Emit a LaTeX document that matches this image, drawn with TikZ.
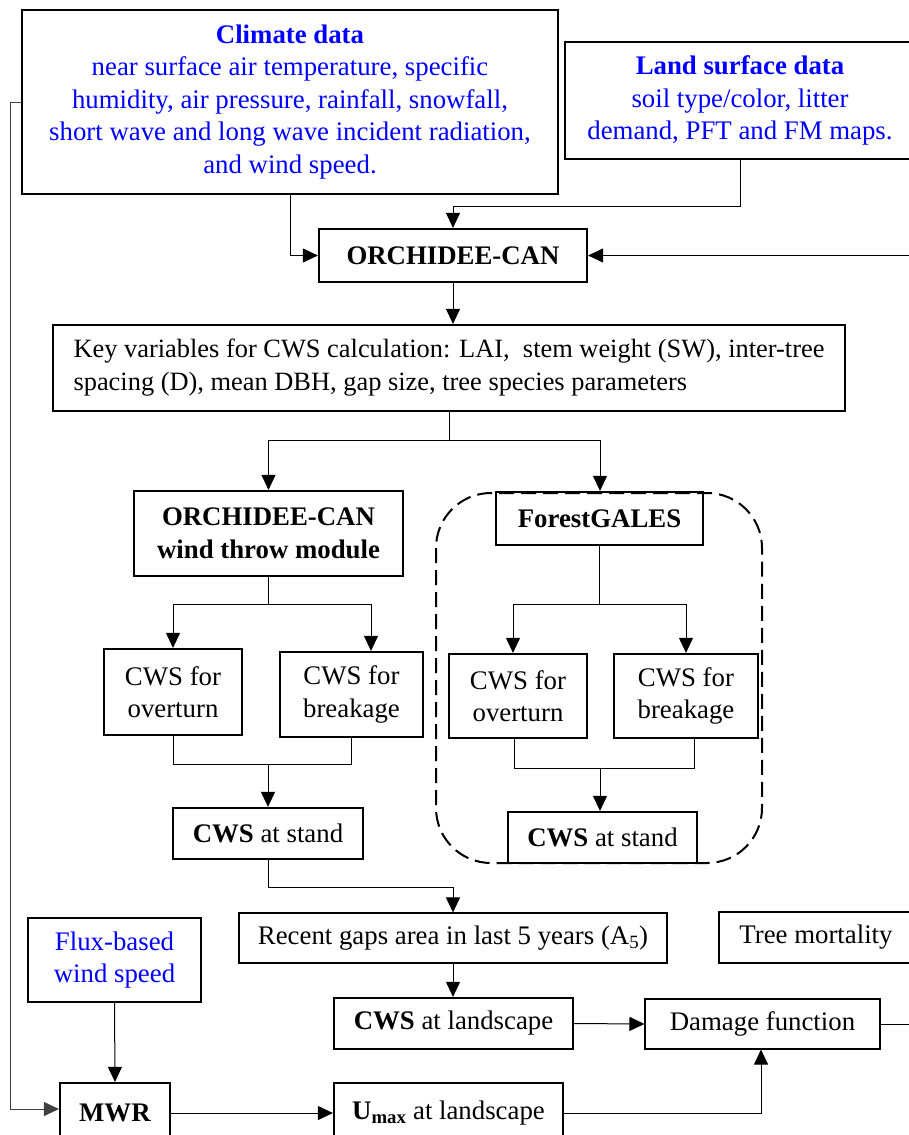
\documentclass[tikz,border=0pt]{standalone}
\usepackage{fontspec}
\setmainfont{Liberation Serif}
\usetikzlibrary{arrows.meta,calc}
\begin{document}
\begin{tikzpicture}[x=1pt,y=-1pt,
  every node/.style={font=\fontsize{26.8}{32.5}\selectfont},
  thickbox/.style={draw, line width=2.2pt, inner sep=0pt, align=center},
  thinbox/.style={draw, line width=1.1pt, inner sep=0pt, align=center},
  conn/.style={line width=1pt},
  arr/.style={conn, -{Triangle[length=15pt,width=14pt]}},
  blu/.style={text=blue}]
\useasboundingbox (0,0) rectangle (909,1135);
\clip (0,0) rectangle (909,1135);
\fill[white] (0,0) rectangle (909,1135);
% nodes
\node[thickbox, blu, minimum width=536, minimum height=184] (climate) at (290,102)
  {\textbf{Climate data}\\near surface air temperature, specific\\humidity, air pressure, rainfall, snowfall,\\short wave and long wave incident radiation,\\and wind speed.};
\node[thickbox, blu, minimum width=350, minimum height=117] (land) at (740,100.5)
  {\textbf{Land surface data}\\soil type/color, litter\\demand,\ PFT and FM maps.};
\node[thickbox, minimum width=268, minimum height=53] (orch) at (453,255.5) {\textbf{ORCHIDEE-CAN}};
\node[thickbox, minimum width=792, minimum height=86, align=left, font=\fontsize{26.4}{33}\selectfont] (key) at (449,368)
  {Key variables for CWS calculation: LAI,\ \ stem weight (SW), inter-tree\\spacing (D), mean DBH, gap size, tree species parameters};
\node[thickbox, minimum width=269, minimum height=85] (wt) at (268.5,533.5) {\textbf{ORCHIDEE-CAN}\\\textbf{wind throw module}};
\node[thickbox, minimum width=207, minimum height=53] (fg) at (599.5,518.5) {\textbf{ForestGALES}};
\node[thickbox, minimum width=138, minimum height=86] (ovL) at (173,692) {CWS for\\overturn};
\node[thickbox, minimum width=143, minimum height=85] (brL) at (351.5,694.5) {CWS for\\breakage};
\node[thickbox, minimum width=138, minimum height=84] (ovR) at (518,696) {CWS for\\overturn};
\node[thickbox, minimum width=144, minimum height=84] (brR) at (686,696) {CWS for\\breakage};
\node[thickbox, minimum width=190, minimum height=51] (stL) at (268,833.5) {\textbf{CWS} at stand};
\node[thickbox, minimum width=189, minimum height=51] (stR) at (602.5,837.5) {\textbf{CWS} at stand};
\node[thinbox, minimum width=428, minimum height=50] (gaps) at (453,938) {Recent gaps area in last 5 years (A\textsubscript{5})};
\node[thinbox, minimum width=194, minimum height=51] (tree) at (816,937.5) {Tree mortality};
\node[thickbox, blu, minimum width=173, minimum height=84] (flux) at (114.5,960) {Flux-based\\wind speed};
\node[thickbox, minimum width=239, minimum height=51] (cland) at (453.5,1023.5) {\textbf{CWS} at landscape};
\node[thinbox, minimum width=235, minimum height=50] (damage) at (762.5,1024) {Damage function};
\node[thickbox, minimum width=110, minimum height=60] (mwr) at (115,1113) {\textbf{MWR}};
\node[thickbox, minimum width=229, minimum height=60] (umax) at (448.5,1113) {\textbf{U\textsubscript{max}} at landscape};
% dashed group
\draw[line width=2pt, dash pattern=on 15pt off 7pt, rounded corners=55pt] (436,493) rectangle (762,863);
% free ends
\coordinate (rightin) at (915,255.5);
\coordinate (rightout) at (915,1024);
% connectors
\draw[arr] (climate.south) |- (orch.west);
\draw[arr] (land.south) -- (land.south |- 0,206) -- (orch.north |- 0,206) -- (orch.north);
\draw[arr] (rightin) -- (orch.east);
\draw[arr] (orch.south) -- (orch.south |- key.north);
\draw[conn] (key.south) -- (key.south |- 0,440);
\draw[arr] (wt.north |- 0,440) -- ($(fg.north |- 0,440)+(0.5,0)$) -- ($(fg.north)+(0.5,0)$);
\draw[arr] (wt.north |- 0,440) -- (wt.north);
\draw[conn] (wt.south) -- (wt.south |- 0,604);
\draw[arr] (ovL.north |- 0,604) -- ($(brL.north |- 0,604)+(19.5,0)$) -- ($(brL.north)+(19.5,0)$);
\draw[arr] (ovL.north |- 0,604) -- (ovL.north);
\draw[conn] (fg.south) -- (fg.south |- 0,604);
\draw[arr] ($(ovR.north |- 0,604)+(-5,0)$) -- (brR.north |- 0,604) -- (brR.north);
\draw[arr] ($(ovR.north |- 0,604)+(-5,0)$) -- ($(ovR.north)+(-5,0)$);
\draw[conn] (ovL.south) -- (ovL.south |- 0,764) -- (brL.south |- 0,764) -- (brL.south);
\draw[arr] (stL.north |- 0,764) -- (stL.north);
\draw[conn] ($(ovR.south)+(-4,0)$) -- ($(ovR.south |- 0,768)+(-4,0)$) -- ($(brR.south |- 0,768)+(8,0)$) -- ($(brR.south)+(8,0)$);
\draw[arr] ($(stR.north |- 0,768)+(-2.5,0)$) -- ($(stR.north)+(-2.5,0)$);
\draw[arr] (stL.south) -- (stL.south |- 0,887) -- (gaps.north |- 0,887) -- (gaps.north);
\draw[arr] (gaps.south) -- (gaps.south |- cland.north);
\draw[arr] (cland.east) -- (damage.west);
\draw[conn] (damage.east) -- (rightout);
\draw[arr] (flux.south) -- (mwr.north);
\draw[arr, draw=black!75] (climate.west) -- (10,102) -- (10,1109) -- (mwr.west |- 0,1109);
\draw[arr] (mwr.east) -- (umax.west);
\draw[arr] (umax.east) -| ($(damage.south)+(-1.5,0)$);
\end{tikzpicture}
\end{document}
